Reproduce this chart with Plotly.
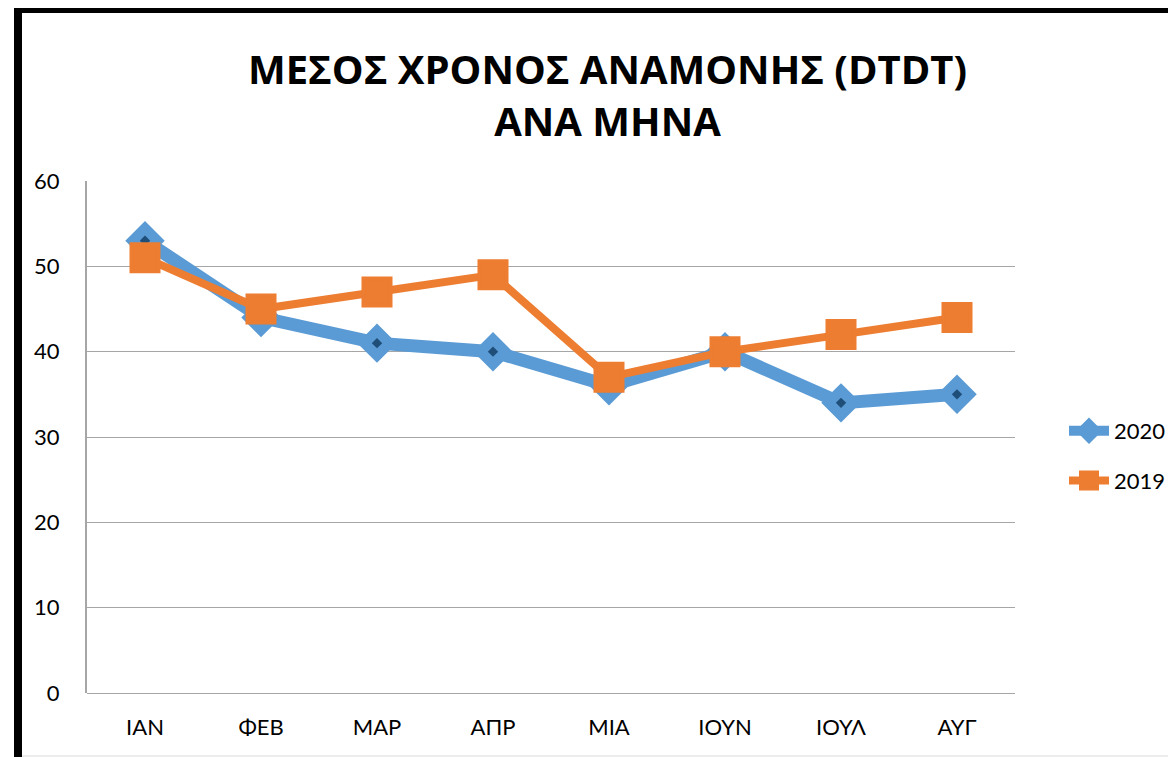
import plotly.graph_objects as go

months = ["ΙΑΝ", "ΦΕΒ", "ΜΑΡ", "ΑΠΡ", "ΜΙΑ", "ΙΟΥΝ", "ΙΟΥΛ", "ΑΥΓ"]
values_2020 = [53, 44, 41, 40, 36, 40, 34, 35]
values_2019 = [51, 45, 47, 49, 37, 40, 42, 44]
y_ticks = [0, 10, 20, 30, 40, 50, 60]

W, H = 1176, 757
OFF = 8  # page body margin
L, R, T, B = 87 - OFF, 1015 - OFF, 181 - OFF, 693 - OFF

BLUE = "#5B9BD5"
DARK = "#1F4E79"
ORANGE = "#ED7D31"
FONT = "Lato, 'Open Sans', sans-serif"

fig = go.Figure()
fig.add_trace(go.Scatter(
    x=months, y=values_2020, name="2020", mode="lines+markers",
    line=dict(color=BLUE, width=13),
    marker=dict(symbol="diamond", size=26, color=BLUE, line=dict(color=BLUE, width=4)),
    legendgroup="a",
))
fig.add_trace(go.Scatter(
    x=months, y=values_2020, name="2020", mode="markers", showlegend=False,
    marker=dict(symbol="diamond", size=8, color=DARK, line=dict(width=0)),
    hoverinfo="skip",
))
fig.add_trace(go.Scatter(
    x=months, y=values_2019, name="2019", mode="lines+markers",
    line=dict(color=ORANGE, width=8),
    marker=dict(symbol="square", size=27, color=ORANGE, line=dict(color=ORANGE, width=4)),
    legendgroup="b",
))

def px(x):
    return (x - OFF - L) / (R - L)

def py(y):
    return (B - (y - OFF)) / (B - T)

shapes = [
    dict(type="line", xref="paper", yref="paper", x0=px(18), x1=px(W + 20), y0=py(9.5), y1=py(9.5),
         line=dict(color="black", width=7)),
    dict(type="line", xref="paper", yref="paper", x0=px(18), x1=px(18), y0=py(6), y1=py(H + 20),
         line=dict(color="black", width=8)),
    dict(type="line", xref="paper", yref="paper", x0=px(22), x1=px(W + 20), y0=py(756), y1=py(756),
         line=dict(color="#D9D9D9", width=1)),
]

fig.update_layout(
    width=W, height=H,
    margin=dict(l=L, r=W - R, t=T, b=H - B, autoexpand=False),
    paper_bgcolor="white", plot_bgcolor="white",
    font=dict(family=FONT, color="black", size=22),
    title=dict(
        text="<b>ΜΕΣΟΣ ΧΡΟΝΟΣ ΑΝΑΜΟΝΗΣ (DTDT)<br>ΑΝΑ ΜΗΝΑ</b>",
        x=((243 + 972) / 2 - OFF) / W, xanchor="center",
        y=1 - 76 / H, yanchor="middle", yref="container",
        font=dict(family="'Open Sans', sans-serif", size=40, color="black"),
    ),
    xaxis=dict(
        type="category", range=[-0.5, 7.5], showgrid=False,
        showline=False, zeroline=False,
        ticks="outside", ticklen=15, tickcolor="rgba(0,0,0,0)",
        tickfont=dict(size=22), fixedrange=True,
    ),
    yaxis=dict(
        range=[0, 60], tickvals=y_ticks, ticktext=[str(v) for v in y_ticks],
        showgrid=True, gridcolor="#A6A6A6", gridwidth=1,
        showline=True, linecolor="#A6A6A6", linewidth=2,
        zeroline=True, zerolinecolor="#A6A6A6", zerolinewidth=1,
        ticks="outside", ticklen=21, tickcolor="rgba(0,0,0,0)",
        tickfont=dict(size=22), fixedrange=True,
    ),
    legend=dict(
        x=px(1064), xanchor="left", y=py(456), yanchor="middle",
        font=dict(size=22), traceorder="grouped", tracegroupgap=18,
        itemwidth=40, bgcolor="rgba(0,0,0,0)",
    ),
    shapes=shapes,
    showlegend=True,
)

fig.write_html("out.html")
